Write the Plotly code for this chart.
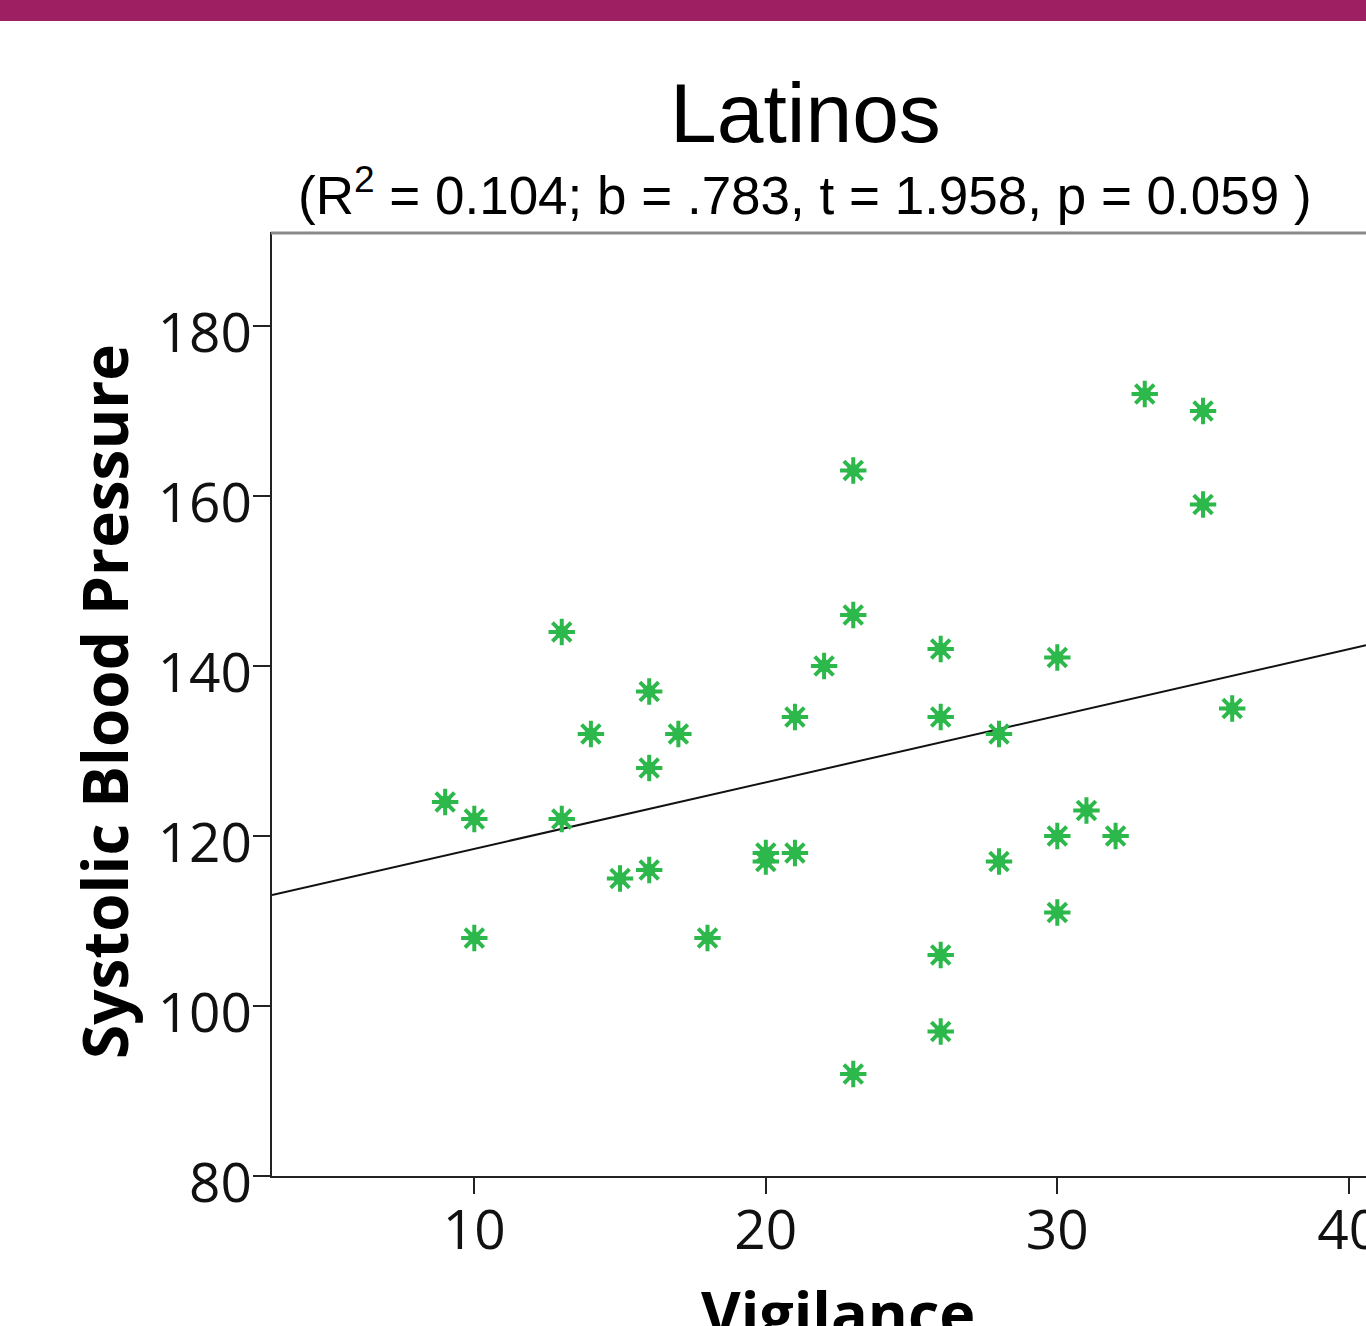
import plotly.graph_objects as go

# ---- data ----
vigilance = [9, 10, 10, 13, 13, 14, 15, 16, 16, 16, 17, 18, 20, 20, 21, 21, 22,
             23, 23, 23, 26, 26, 26, 26, 28, 28, 30, 30, 30, 31, 32, 33, 35, 35, 36]
sbp = [124, 122, 108, 144, 122, 132, 115, 137, 128, 116, 132, 108, 118, 117, 118, 134, 140,
       163, 146, 92, 142, 134, 106, 97, 132, 117, 141, 120, 111, 123, 120, 172, 170, 159, 135]

fit_slope = 0.783
fit_intercept = 110.66

title_text = "Latinos"
subtitle_text = "(R<sup>2</sup> = 0.104; b = .783, t = 1.958, p = 0.059 )"
x_title = "Vigilance"
y_title = "Systolic Blood Pressure"

x_range = [3.06, 40.59]
y_range = [80, 191.06]
x_ticks = [10, 20, 30, 40]
y_ticks = [80, 100, 120, 140, 160, 180]

W, H = 1366, 1326
L, R, T, B = 272, 0, 232, 150
pw, ph = W - L - R, H - T - B


def px_x(p):
    return (p - L) / pw


def px_y(p):
    return (H - B - p) / ph


green = "#2db84b"
fig = go.Figure()

fit_x = x_range
fit_y = [fit_intercept + fit_slope * v for v in fit_x]
fig.add_trace(go.Scatter(x=fit_x, y=fit_y, mode="lines",
                         line=dict(color="#111111", width=2), hoverinfo="skip"))

fig.add_trace(go.Scatter(x=vigilance, y=sbp, mode="markers",
                         marker=dict(symbol="asterisk-open", size=22,
                                     line=dict(color=green, width=4), color=green)))
fig.add_trace(go.Scatter(x=vigilance, y=sbp, mode="markers",
                         marker=dict(symbol="circle", size=13, color=green,
                                     line=dict(width=0))))

tickfont = dict(family="Open Sans", size=55, color="#111111")
fig.update_xaxes(range=x_range, tickvals=x_ticks, ticks="outside", ticklen=16,
                 tickwidth=2, tickcolor="#222222", showline=True, linewidth=2,
                 linecolor="#222222", showgrid=False, zeroline=False,
                 tickfont=tickfont, ticklabelstandoff=-11, ticklabeloverflow="allow")
fig.update_yaxes(range=y_range, tickvals=y_ticks, ticks="outside", ticklen=17,
                 tickwidth=2, tickcolor="#222222", showline=True, linewidth=2,
                 linecolor="#222222", showgrid=False, zeroline=False,
                 tickfont=tickfont, ticklabelstandoff=-10, ticklabelshift=7)

shapes = [
    # purple header band
    dict(type="rect", xref="paper", yref="paper", x0=px_x(0), x1=1.0,
         y0=px_y(21), y1=px_y(0), fillcolor="#9e2063", line=dict(width=0), layer="above"),
    # top border of plot
    dict(type="line", xref="paper", yref="paper", x0=px_x(271), x1=1.0,
         y0=px_y(233), y1=px_y(233), line=dict(color="#8a8a8a", width=3)),
]

annotations = [
    dict(text=title_text, x=px_x(805), y=px_y(113), xref="paper", yref="paper",
         xanchor="center", yanchor="middle", showarrow=False,
         font=dict(family="Liberation Sans, Arial", size=84, color="#000000")),
    dict(text=subtitle_text, x=px_x(805), y=px_y(192), xref="paper", yref="paper",
         xanchor="center", yanchor="middle", showarrow=False,
         font=dict(family="Liberation Sans, Arial", size=53, color="#000000")),
    dict(text=y_title, x=px_x(104), y=px_y(702), xref="paper", yref="paper",
         xanchor="center", yanchor="middle", textangle=-90, showarrow=False,
         font=dict(family="Open Sans", size=62, color="#000000", weight="bold")),
    dict(text=x_title, x=px_x(838), y=px_y(1312), xref="paper", yref="paper",
         xanchor="center", yanchor="middle", showarrow=False,
         font=dict(family="Open Sans", size=61, color="#000000", weight="bold")),
]

fig.update_layout(width=W, height=H, margin=dict(l=L, r=R, t=T, b=B, autoexpand=False),
                  paper_bgcolor="white", plot_bgcolor="white", showlegend=False,
                  shapes=shapes, annotations=annotations)

fig.write_html("out.html")
